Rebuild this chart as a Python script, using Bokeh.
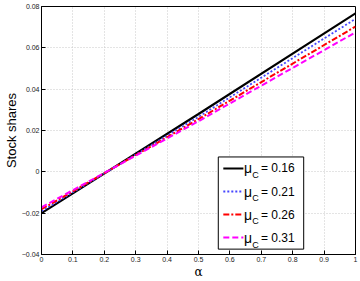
from bokeh.plotting import figure
from bokeh.models import FixedTicker, Label
from bokeh.embed import file_html
from bokeh.resources import INLINE

# ---- data ----
alpha = [0.0, 0.5, 1.0]
s016 = [-0.0200, 0.0280, 0.0767]
s021 = [-0.0190, 0.0266, 0.0740]
s026 = [-0.0181, 0.0255, 0.0703]
s031 = [-0.0172, 0.0245, 0.0675]
mu_labels = ["0.16", "0.21", "0.26", "0.31"]
x_ticks = [0, 0.1, 0.2, 0.3, 0.4, 0.5, 0.6, 0.7, 0.8, 0.9, 1]
x_tick_labels = ["0", "0.1", "0.2", "0.3", "0.4", "0.5", "0.6", "0.7", "0.8", "0.9", "1"]
y_ticks = [-0.04, -0.02, 0, 0.02, 0.04, 0.06, 0.08]
y_tick_labels = ["\u22120.04", "\u22120.02", "0", "0.02", "0.04", "0.06", "0.08"]

FONT = "Liberation Sans"

p = figure(width=358, height=281, output_backend="svg", toolbar_location=None,
           x_range=(0, 1), y_range=(-0.04, 0.08),
           min_border_left=31, min_border_right=3, min_border_top=6, min_border_bottom=10)
p.background_fill_color = "white"
p.border_fill_color = "white"
p.outline_line_color = "black"
p.outline_line_width = 1

for ax in (p.xaxis[0], p.yaxis[0]):
    ax.major_tick_in = 4
    ax.major_tick_out = 0
    ax.minor_tick_in = 0
    ax.minor_tick_out = 0
    ax.axis_line_color = "black"
    ax.major_tick_line_color = "black"
    ax.major_label_text_font = FONT
    ax.major_label_text_font_size = "7px"
    ax.major_label_text_color = "#222222"
    ax.axis_label_text_font_style = "normal"
    ax.axis_label_text_color = "black"

p.xaxis.ticker = FixedTicker(ticks=x_ticks)
p.xaxis.major_label_overrides = {t: l for t, l in zip(x_ticks, x_tick_labels)}
p.yaxis.ticker = FixedTicker(ticks=y_ticks)
p.yaxis.major_label_overrides = {t: l for t, l in zip(y_ticks, y_tick_labels)}
p.xaxis.major_label_standoff = 2
p.yaxis.major_label_standoff = 2

p.xaxis.axis_label = "\u03b1"
p.xaxis.axis_label_text_font = "DejaVu Serif"
p.xaxis.axis_label_text_font_size = "12px"
p.xaxis.axis_label_standoff = 0
p.yaxis.axis_label = "Stock shares"
p.yaxis.axis_label_text_font = FONT
p.yaxis.axis_label_text_font_size = "13px"
p.yaxis.axis_label_standoff = 0

p.grid.grid_line_color = "#c8c8c8"
p.grid.grid_line_dash = "1 2"
p.grid.grid_line_width = 1

styles = [
    dict(color="black", line_width=2.2, line_dash="solid"),
    dict(color="#4646ff", line_width=1.8, line_dash="2 2"),
    dict(color="#ff0000", line_width=2, line_dash="6 2 2 2"),
    dict(color="#ff00ff", line_width=2, line_dash="6 3"),
]
series = [s016, s021, s026, s031]
for s, st in zip(series, styles):
    p.line(alpha, s, **st)

# ---- legend (manual, for subscript) ----
LX0, LX1 = 0.563, 0.835
LY_TOP, LY_BOT = 0.0072, -0.0374
p.quad(left=[LX0], right=[LX1], top=[LY_TOP], bottom=[LY_BOT],
       fill_color="white", line_color="black", line_width=1)
row_h = (LY_TOP - LY_BOT) / 4.0
for i, (lab, st) in enumerate(zip(mu_labels, styles)):
    yc = LY_TOP - row_h * (i + 0.5)
    p.line([LX0 + 0.016, LX0 + 0.080], [yc, yc], **st)
    p.add_layout(Label(x=LX0 + 0.082, y=yc, text="\u03bc", text_font=FONT,
                       text_color="black",
                       text_font_size="14px", text_baseline="middle"))
    p.add_layout(Label(x=LX0 + 0.108, y=yc - row_h * 0.30, text="C", text_font=FONT,
                       text_color="black",
                       text_font_size="9px", text_baseline="middle"))
    p.add_layout(Label(x=LX0 + 0.136, y=yc, text="= " + lab, text_font=FONT,
                       text_color="black",
                       text_font_size="12px", text_baseline="middle"))

open("out.html", "w").write(file_html(p, INLINE))
